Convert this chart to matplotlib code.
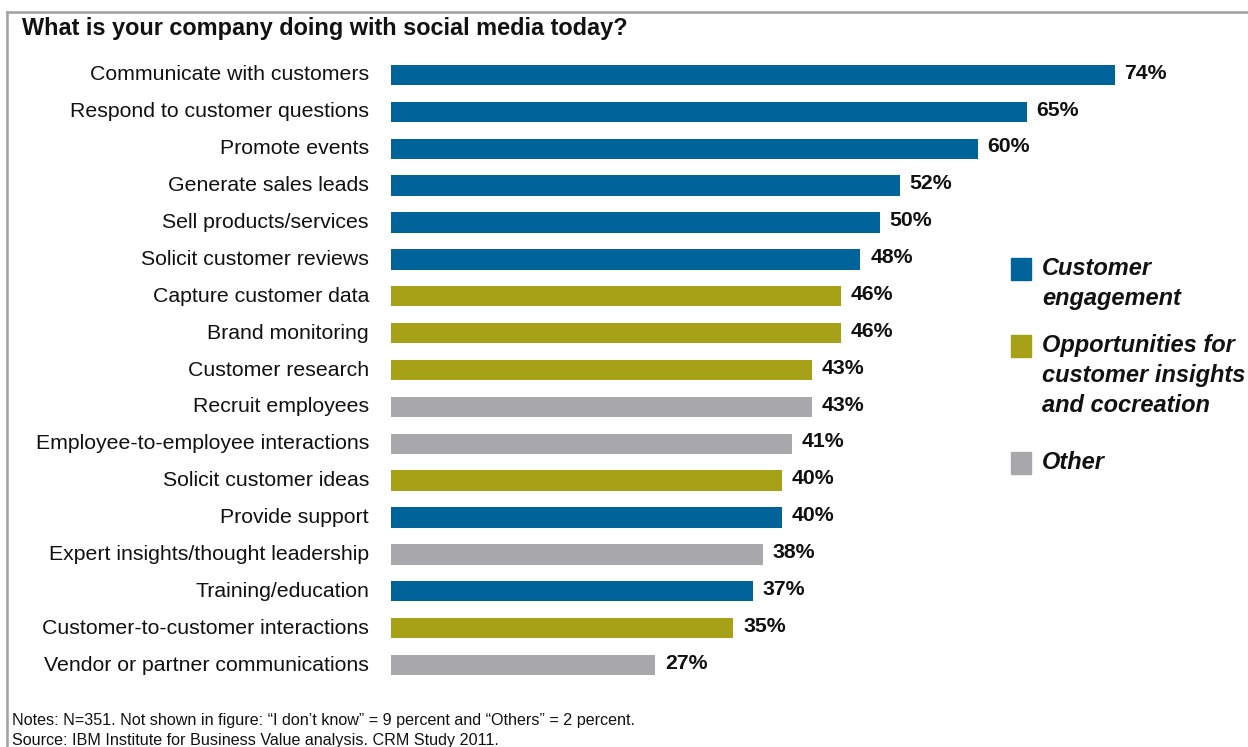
import matplotlib.pyplot as plt
from matplotlib.patches import Rectangle
from matplotlib.lines import Line2D

plt.rcParams['font.family'] = ['Liberation Sans', 'DejaVu Sans']

# --- Data ---
categories = [
    'Communicate with customers', 'Respond to customer questions', 'Promote events',
    'Generate sales leads', 'Sell products/services', 'Solicit customer reviews',
    'Capture customer data', 'Brand monitoring', 'Customer research',
    'Recruit employees', 'Employee-to-employee interactions', 'Solicit customer ideas',
    'Provide support', 'Expert insights/thought leadership', 'Training/education',
    'Customer-to-customer interactions', 'Vendor or partner communications',
]
values = [74, 65, 60, 52, 50, 48, 46, 46, 43, 43, 41, 40, 40, 38, 37, 35, 27]
groups = ['eng', 'eng', 'eng', 'eng', 'eng', 'eng', 'ins', 'ins', 'ins',
          'oth', 'oth', 'ins', 'eng', 'oth', 'eng', 'ins', 'oth']
legend_labels = ['Customer\nengagement',
                 'Opportunities for\ncustomer insights\nand cocreation',
                 'Other']

colors = {'eng': '#00649b', 'ins': '#a6a116', 'oth': '#a8a8ac'}

W, H = 1248, 747
fig = plt.figure(figsize=(W / 100, H / 100), dpi=100)

# axes in pixel terms: x from 391, 9.78 px per percent; rows 36.9 px apart
row = 36.9
top = 75 - row / 2
bot = 665 + row / 2
left = 391
xmax = 80
width = xmax * 9.78
ax = fig.add_axes([left / W, 1 - bot / H, width / W, (bot - top) / H])

y = list(range(len(categories)))
ax.barh(y, values, height=0.55, color=[colors[g] for g in groups])
ax.set_xlim(0, xmax)
ax.set_ylim(len(categories) - 0.5, -0.5)
ax.axis('off')

for i, (cat, v) in enumerate(zip(categories, values)):
    ax.text(-2.25, i, cat, ha='right', va='center', fontsize=15.3, color='#111111')
    ax.text(v + 1.0, i - 0.05, f'{v}%', ha='left', va='center', fontsize=15.3,
            fontweight='bold', color='#111111')

# --- Title ---
fig.text(22 / W, 1 - 28 / H, 'What is your company doing with social media today?',
         ha='left', va='center', fontsize=16.9, fontweight='bold', color='#111111')

# --- Legend ---
leg_y = [258, 335, 452]
for g, lab, yy in zip(['eng', 'ins', 'oth'], legend_labels, leg_y):
    fig.patches.append(Rectangle((1011 / W, 1 - (yy + 22) / H), 20 / W, 22 / H,
                                 transform=fig.transFigure, color=colors[g]))
    fig.text(1042 / W, 1 - (yy - 1) / H, lab, ha='left', va='top', fontsize=17,
             fontweight='bold', style='italic', linespacing=1.38, color='#111111')

# --- Notes ---
fig.text(12 / W, 1 - 720 / H,
         'Notes: N=351. Not shown in figure: \u201cI don\u2019t know\u201d = 9 percent and \u201cOthers\u201d = 2 percent.',
         ha='left', va='center', fontsize=11.6, color='#111111')
fig.text(12 / W, 1 - 741 / H, 'Source: IBM Institute for Business Value analysis. CRM Study 2011.',
         ha='left', va='center', fontsize=11.6, color='#111111')

# --- Frame lines (top and left) ---
fig.lines.append(Line2D([7 / W, 1], [1 - 12 / H, 1 - 12 / H], transform=fig.transFigure,
                        color='#a0a0a0', linewidth=1.8))
fig.lines.append(Line2D([7 / W, 7 / W], [0, 1 - 12 / H], transform=fig.transFigure,
                        color='#a0a0a0', linewidth=1.8))

fig.savefig('out.png', dpi=100)
